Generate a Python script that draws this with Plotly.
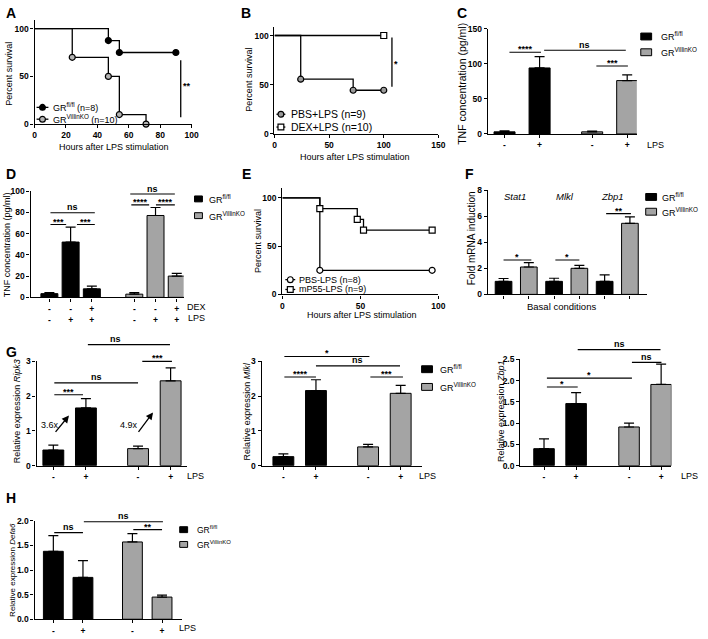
import plotly.graph_objects as go

W, H = 708, 639
FONT = 'Liberation Sans, Arial, sans-serif'
GRAY = '#a4a4a4'

# ===================== DATA =====================
# A: survival after LPS, GR genotypes
a_fl_time = [0, 47, 54, 90]
a_fl_surv = [100, 87.5, 75, 75]
a_ko_time = [0, 24, 47, 54, 71]
a_ko_surv = [100, 70, 50, 10, 0]
a_legend = ['GR<sup>fl/fl</sup> (n=8)', 'GR<sup>VillinKO</sup> (n=10)']
# B: PBS vs DEX
b_pbs_time = [0, 24, 72, 100]
b_pbs_surv = [100, 55.6, 44.4, 44.4]
b_dex_time = [0, 100]
b_dex_surv = [100, 100]
b_legend = ['PBS+LPS (n=9)', 'DEX+LPS (n=10)']
# C: TNF
c_lps = ['-', '+']
c_fl = [3, 94]
c_fl_err = [1.5, 16]
c_ko = [3, 76]
c_ko_err = [1, 8]
# D: TNF with DEX
d_dex = ['-', '-', '+']
d_lps = ['-', '+', '+']
d_fl = [3.5, 52, 8]
d_fl_err = [1, 14, 2.5]
d_ko = [3, 77, 20]
d_ko_err = [1.5, 7.5, 2.5]
# E: PBS vs mP55
e_pbs_time = [0, 24, 96]
e_pbs_surv = [100, 25, 25]
e_mp_time = [0, 24, 48, 52, 96]
e_mp_surv = [100, 88.9, 77.8, 66.7, 66.7]
e_legend = ['PBS-LPS (n=8)', 'mP55-LPS (n=9)']
# F: basal fold induction
f_genes = ['Stat1', 'Mlkl', 'Zbp1']
f_fl = [1.0, 1.0, 1.0]
f_fl_err = [0.22, 0.24, 0.5]
f_ko = [2.1, 2.0, 5.45]
f_ko_err = [0.33, 0.23, 0.5]
# G: relative expression
g_genes = ['Ripk3', 'Mlkl', 'Zbp1']
g_fl = [[0.45, 1.66], [0.26, 2.16], [0.40, 1.46]]
g_fl_err = [[0.14, 0.27], [0.08, 0.31], [0.23, 0.26]]
g_ko = [[0.49, 2.44], [0.54, 2.08], [0.91, 1.91]]
g_ko_err = [[0.07, 0.37], [0.07, 0.23], [0.09, 0.48]]
g_fold = ['3.6x', '4.9x']
# H: Defa6
h_fl = [1.38, 0.85]
h_fl_err = [0.32, 0.34]
h_ko = [1.57, 0.45]
h_ko_err = [0.17, 0.04]
group_names = ['GR<sup>fl/fl</sup>', 'GR<sup>VillinKO</sup>']

# ===================== LAYOUT HELPERS =====================
traces = []
shapes = []
annots = []
layout = dict(width=W, height=H, margin=dict(l=0, r=0, t=0, b=0),
              paper_bgcolor='white', plot_bgcolor='rgba(0,0,0,0)',
              barmode='overlay', showlegend=False,
              font=dict(family=FONT, color='black'))


def sfx(n):
    return '' if n == 1 else str(n)


def add_axes(n, xpx, ypx, xr, yr, xtick, ytick):
    s = sfx(n)
    common = dict(showline=True, linecolor='black', linewidth=1.3, ticks='outside',
                  ticklen=3, tickwidth=1.2, tickcolor='black', showgrid=False,
                  zeroline=False, fixedrange=True,
                  tickfont=dict(size=8.5, family=FONT, weight='bold', color='black'))
    layout['xaxis' + s] = {**common, 'domain': [xpx[0] / W, xpx[1] / W], 'range': list(xr),
                           'anchor': 'y' + s, **xtick}
    layout['yaxis' + s] = {**common, 'domain': [1 - ypx[1] / H, 1 - ypx[0] / H], 'range': list(yr),
                           'anchor': 'x' + s, **ytick}


def xr_from(p0, u, x0, x1):
    return ((x0 - p0) / u, (x1 - p0) / u)


def txt(x, y, s, size=9, xanchor='center', angle=0, weight='normal', yanchor='middle'):
    annots.append(dict(x=x / W, y=1 - y / H, xref='paper', yref='paper', text=s,
                       showarrow=False, xanchor=xanchor, yanchor=yanchor, textangle=angle,
                       font=dict(size=size, family=FONT, weight=weight, color='black')))


def km(n, t, s, symbol, fill, size=6):
    sx = sfx(n)
    traces.append(go.Scatter(x=t, y=s, mode='lines', line=dict(shape='hv', color='black', width=1.3),
                             xaxis='x' + sx, yaxis='y' + sx, cliponaxis=False))
    traces.append(go.Scatter(x=t[1:], y=s[1:], mode='markers',
                             marker=dict(symbol=symbol, size=size, color=fill,
                                         line=dict(color='black', width=1.2)),
                             xaxis='x' + sx, yaxis='y' + sx, cliponaxis=False))


def bars(n, pos, vals, err, color, width):
    sx = sfx(n)
    traces.append(go.Bar(x=pos, y=vals, width=width,
                         marker=dict(color=color, line=dict(color='black', width=1)),
                         error_y=dict(type='data', symmetric=False, array=err,
                                      arrayminus=[0] * len(err), color='black',
                                      thickness=1.2, width=5),
                         xaxis='x' + sx, yaxis='y' + sx))


def bracket(n, ytop, x0, x1, y, label, size=9, tx=None):
    sx = sfx(n)
    yd = y / ytop
    shapes.append(dict(type='line', xref='x' + sx, yref='y' + sx + ' domain', x0=x0, x1=x1,
                       y0=yd, y1=yd, line=dict(color='black', width=1.1)))
    ys = -4 if '*' in label else -1.5
    annots.append(dict(xref='x' + sx, yref='y' + sx + ' domain',
                       x=(x0 + x1) / 2 if tx is None else tx, y=yd,
                       text=label, showarrow=False, yanchor='bottom', yshift=ys,
                       font=dict(size=size, family=FONT, weight='bold', color='black')))


def vsig(n, x, y0, y1, label, lx, ly):
    sx = sfx(n)
    shapes.append(dict(type='line', xref='x' + sx, yref='y' + sx, x0=x, x1=x, y0=y0, y1=y1,
                       line=dict(color='black', width=1.3)))
    annots.append(dict(xref='x' + sx, yref='y' + sx, x=lx, y=ly, text=label, showarrow=False,
                       yshift=-3, font=dict(size=9, family=FONT, weight='bold', color='black')))


def leg_km(x0, x1, y, kind, fill, label, tx, size=9, r=2.9):
    shapes.append(dict(type='line', xref='paper', yref='paper', x0=x0 / W, x1=x1 / W,
                       y0=1 - y / H, y1=1 - y / H, line=dict(color='black', width=1.3)))
    shapes.append(dict(type=kind, xref='paper', yref='paper', xsizemode='pixel', ysizemode='pixel',
                       xanchor=(x0 + x1) / 2 / W, yanchor=1 - y / H, x0=-r, x1=r, y0=-r, y1=r,
                       fillcolor=fill, line=dict(color='black', width=1.2)))
    txt(tx, y, label, size=size, xanchor='left')


def leg_bar(x0, x1, y, h, fill, label, tx, size=9):
    shapes.append(dict(type='rect', xref='paper', yref='paper', x0=x0 / W, x1=x1 / W,
                       y0=1 - (y + h / 2) / H, y1=1 - (y - h / 2) / H, fillcolor=fill,
                       line=dict(color='black', width=1)))
    txt(tx, y, label, size=size, xanchor='left')


# ===================== PANEL A =====================
add_axes(1, (33, 192), (15, 121), (0, 100), (0, 109.3),
         dict(tickvals=[0, 20, 40, 60, 80, 100]), dict(tickvals=[0, 50, 100]))
km(1, a_fl_time, a_fl_surv, 'circle', 'black')
km(1, a_ko_time, a_ko_surv, 'circle', '#b4b4b4')
vsig(1, 93.1, 7.2, 67, '**', 96.8, 43.3)
leg_km(35, 47, 104, 'circle', 'black', a_legend[0], 50)
leg_km(35, 47, 116, 'circle', '#b4b4b4', a_legend[1], 50)
txt(7, 70, 'Percent survival', angle=-90)
txt(113, 144, 'Hours after LPS stimulation')
txt(9, 8, 'A', size=14, weight='bold')

# ===================== PANEL B =====================
add_axes(2, (276, 442), (22, 131), (0, 150), (0, 109),
         dict(tickvals=[0, 50, 100, 150]), dict(tickvals=[0, 50, 100]))
km(2, b_pbs_time, b_pbs_surv, 'circle', '#9a9a9a')
km(2, b_dex_time, b_dex_surv, 'square', 'white')
vsig(2, 107.5, 48, 98, '*', 111.5, 74)
leg_km(278, 287, 111, 'circle', '#9a9a9a', b_legend[0], 291, size=10.5)
leg_km(278, 287, 124, 'rect', 'white', b_legend[1], 291, size=10.5)
txt(250, 76, 'Percent survival', angle=-90)
txt(358, 154, 'Hours after LPS stimulation')
txt(247, 8, 'B', size=14, weight='bold')

# ===================== PANEL C =====================
c_pos_fl, c_pos_ko = [0, 1], [2.5, 3.5]
add_axes(3, (492, 643), (24, 131), xr_from(509, 35.5, 492, 643), (0, 150),
         dict(tickvals=c_pos_fl + c_pos_ko, ticktext=c_lps + c_lps),
         dict(tickvals=[0, 50, 100, 150]))
bars(3, c_pos_fl, c_fl, c_fl_err, 'black', 0.6)
bars(3, c_pos_ko, c_ko, c_ko_err, GRAY, 0.6)
bracket(3, 150, 0.14, 1.04, 116.4, '****')
bracket(3, 150, 1.13, 3.46, 119.2, 'ns')
bracket(3, 150, 2.62, 3.52, 96.7, '***')
leg_bar(647, 658, 32, 7, 'black', group_names[0], 665)
leg_bar(647, 658, 48, 7, GRAY, group_names[1], 665)
txt(662, 142, 'LPS')
txt(466, 80, 'TNF concentration (pg/ml)', size=10.5, angle=-90)
txt(466, 8, 'C', size=14, weight='bold')

# ===================== PANEL D =====================
d_pos_fl, d_pos_ko = [0, 1, 2], [4, 5, 6]
d_ticks = [a + '<br>' + b for a, b in zip(d_dex, d_lps)]
add_axes(4, (29, 184), (189, 297), xr_from(48, 21.5, 29, 184), (0, 100),
         dict(tickvals=d_pos_fl + d_pos_ko, ticktext=d_ticks + d_ticks),
         dict(tickvals=[0, 20, 40, 60, 80, 100]))
bars(4, d_pos_fl, d_fl, d_fl_err, 'black', 0.8)
bars(4, d_pos_ko, d_ko, d_ko_err, GRAY, 0.8)
bracket(4, 100, 0.05, 2.14, 79.6, 'ns')
bracket(4, 100, 0.05, 0.79, 68.5, '***')
bracket(4, 100, 1.30, 2.14, 68.5, '***')
bracket(4, 100, 3.81, 5.91, 97.2, 'ns')
bracket(4, 100, 3.86, 4.70, 87.0, '****')
bracket(4, 100, 5.02, 5.91, 87.0, '****')
leg_bar(195, 203, 197, 6, 'black', group_names[0], 208)
leg_bar(195, 203, 214, 6, GRAY, group_names[1], 208)
txt(197, 307, 'DEX')
txt(197, 318, 'LPS')
txt(5, 243, 'TNF concentration (pg/ml)', angle=-90)
txt(9, 172, 'D', size=14, weight='bold')

# ===================== PANEL E =====================
add_axes(5, (284, 442), (186, 294), (0, 100), (0, 110.2),
         dict(tickvals=[0, 50, 100]), dict(tickvals=[0, 50, 100]))
km(5, e_pbs_time, e_pbs_surv, 'circle', 'white')
km(5, e_mp_time, e_mp_surv, 'square', 'white')
vsig(5, 102.5, 26.5, 65.3, '*', 106.5, 48)
leg_km(287, 297, 279, 'circle', 'white', e_legend[0], 299)
leg_km(287, 297, 289, 'rect', 'white', e_legend[1], 299)
txt(260, 240, 'Percent survival', angle=-90)
txt(365, 315, 'Hours after LPS stimulation')
txt(248, 172, 'E', size=14, weight='bold')

# ===================== PANEL F =====================
f_pos_fl, f_pos_ko = [0, 2, 4], [1, 3, 5]
add_axes(6, (492, 653), (188, 294), xr_from(508, 25.6, 492, 653), (0, 8),
         dict(tickvals=[0, 1, 2, 3, 4, 5], showticklabels=False),
         dict(tickvals=[0, 2, 4, 6, 8]))
bars(6, f_pos_fl, f_fl, f_fl_err, 'black', 0.66)
bars(6, f_pos_ko, f_ko, f_ko_err, GRAY, 0.66)
bracket(6, 8, 0.0, 1.1, 2.64, '*')
bracket(6, 8, 2.05, 3.0, 2.64, '*')
bracket(6, 8, 4.06, 5.04, 6.19, '**')
for gx, gname in zip([520, 570, 618], f_genes):
    txt(gx, 195, '<i>' + gname + '</i>', size=9.5)
leg_bar(652, 663, 195, 7, 'black', group_names[0], 666)
leg_bar(652, 663, 210, 7, GRAY, group_names[1], 666)
txt(567, 306, 'Basal conditions', size=9.5)
txt(475, 237, 'Fold mRNA induction', size=10, angle=-90)
txt(474, 172, 'F', size=14, weight='bold')

# ===================== PANEL G =====================
g_specs = [
    # n, x px, y px, origin px, unit px, ko positions, ytop, ytick, title x
    (7, (35, 187), (362, 468), 52, 33.0, [2.6, 3.6], 3, [0, 1, 2, 3], 15),
    (8, (263, 425), (362, 468), 285, 33.0, [2.6, 3.6], 3, [0, 1, 2, 3], 248),
    (9, (525, 678), (360, 468), 549, 32.5, [2.65, 3.65], 2.5, [0, 0.5, 1.0, 1.5, 2.0, 2.5], 505),
]
lps_x = [196, 431, 696]
for i, (n, xpx, ypx, p0, u, kopos, ytop, ytv, tx) in enumerate(g_specs):
    yt = dict(tickvals=ytv)
    if ytop == 2.5:
        yt['tickformat'] = '.1f'
    add_axes(n, xpx, ypx, xr_from(p0, u, xpx[0], xpx[1]), (0, ytop),
             dict(tickvals=[0, 1] + kopos, ticktext=c_lps + c_lps), yt)
    bars(n, [0, 1], g_fl[i], g_fl_err[i], 'black', 0.64)
    bars(n, kopos, g_ko[i], g_ko_err[i], GRAY, 0.64)
    txt(lps_x[i], 478, 'LPS')
    txt(tx, 413, 'Relative expression <i>' + g_genes[i] + '</i>', angle=-90)

bracket(7, 3, 0.03, 0.91, 2.04, '***')
bracket(7, 3, 0.03, 2.6, 2.38, 'ns')
bracket(7, 3, 2.73, 3.64, 3.0, '***')
bracket(7, 3, 1.06, 3.58, 3.48, 'ns', tx=1.9)
bracket(8, 3, 0.03, 1.0, 2.55, '****')
bracket(8, 3, 2.67, 3.67, 2.55, '***')
bracket(8, 3, 1.0, 3.58, 2.87, 'ns')
bracket(8, 3, 0.03, 2.64, 3.14, '*')
bracket(9, 2.5, 0.09, 1.05, 1.85, '*')
bracket(9, 2.5, 0.09, 2.74, 2.06, '*')
bracket(9, 2.5, 1.05, 3.63, 2.73, 'ns')
bracket(9, 2.5, 2.74, 3.66, 2.43, 'ns')

# fold-change arrows in Ripk3
for (hx, hy, tx_, ty_), lab, (lx, ly) in zip([(0.48, 1.44, 0.03, 0.93), (3.06, 1.53, 2.58, 0.93)],
                                              g_fold, [(-0.09, 1.16), (2.33, 1.16)]):
    annots.append(dict(xref='x7', yref='y7', axref='x7', ayref='y7', x=hx, y=hy, ax=tx_, ay=ty_,
                       text='', showarrow=True, arrowhead=2, arrowsize=1.1, arrowwidth=1.3,
                       arrowcolor='black', standoff=0, startstandoff=0))
    annots.append(dict(xref='x7', yref='y7', x=lx, y=ly, text=lab, showarrow=False,
                       font=dict(size=9, family=FONT, color='black')))

leg_bar(425, 436, 370, 7, 'black', group_names[0], 442)
leg_bar(425, 436, 388, 7, GRAY, group_names[1], 442)
txt(10, 353, 'G', size=14, weight='bold')

# ===================== PANEL H =====================
h_pos_fl, h_pos_ko = [0, 1], [2.67, 3.67]
add_axes(10, (33, 182), (524, 624), xr_from(52, 30, 33, 182), (0, 2),
         dict(tickvals=h_pos_fl + h_pos_ko, ticktext=c_lps + c_lps),
         dict(tickvals=[0, 0.5, 1.0, 1.5, 2.0], tickformat='.1f'))
bars(10, h_pos_fl, h_fl, h_fl_err, 'black', 0.67)
bars(10, h_pos_ko, h_ko, h_ko_err, GRAY, 0.67)
bracket(10, 2, 0.03, 1.0, 1.76, 'ns')
bracket(10, 2, 1.03, 3.7, 1.98, 'ns')
bracket(10, 2, 2.7, 3.67, 1.82, '**')
leg_bar(180, 188, 533, 6, 'black', group_names[0], 195, size=8.5)
leg_bar(180, 188, 548, 6, GRAY, group_names[1], 195, size=8.5)
txt(188, 633, 'LPS')
txt(10, 574, 'Relative expression <i>Defa6</i>', size=8, angle=-90)
txt(9, 501, 'H', size=14, weight='bold')

layout['shapes'] = shapes
layout['annotations'] = annots
fig = go.Figure(data=traces, layout=layout)
fig.write_html('out.html', config={'displayModeBar': False},
               post_script="document.body.style.margin='0';document.body.style.overflow='hidden';")
